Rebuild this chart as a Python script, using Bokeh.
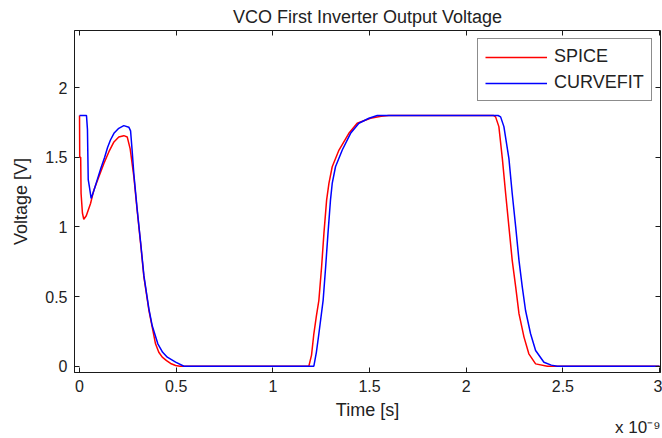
from bokeh.plotting import figure
from bokeh.models import (Range1d, LinearAxis, FixedTicker, Legend, LegendItem, Title)
from bokeh.embed import file_html
from bokeh.resources import INLINE

# ---------------- data (time in units of 1e-9 s, voltage in V) ----------------
t_spice = [0.0, 0.001, 0.006, 0.008, 0.015, 0.022, 0.035, 0.057, 0.074, 0.100,
           0.126, 0.152, 0.178, 0.203, 0.229, 0.247, 0.262, 0.281, 0.298, 0.316,
           0.333, 0.359, 0.376, 0.393, 0.410, 0.428, 0.450, 0.471, 0.497, 0.520,
           0.800, 1.186, 1.200, 1.212, 1.225, 1.238, 1.252, 1.264, 1.278, 1.290,
           1.307, 1.342, 1.393, 1.436, 1.505, 1.560, 1.600, 2.140, 2.152, 2.169,
           2.187, 2.204, 2.221, 2.238, 2.256, 2.273, 2.299, 2.324, 2.359, 2.420,
           2.700, 3.000]
v_spice = [1.800, 1.500, 1.500, 1.240, 1.100, 1.055, 1.080, 1.168, 1.264, 1.360,
           1.456, 1.540, 1.610, 1.645, 1.655, 1.645, 1.560, 1.360, 1.120, 0.880,
           0.640, 0.400, 0.280, 0.161, 0.100, 0.065, 0.040, 0.020, 0.005, 0.000,
           0.000, 0.000, 0.080, 0.233, 0.360, 0.473, 0.712, 0.952, 1.192, 1.312,
           1.432, 1.552, 1.672, 1.744, 1.780, 1.795, 1.800, 1.800, 1.790, 1.720,
           1.490, 1.240, 1.000, 0.760, 0.570, 0.377, 0.209, 0.089, 0.017, 0.000,
           0.000, 0.000]

t_curvefit = [0.0, 0.036, 0.041, 0.045, 0.052, 0.060, 0.074, 0.091, 0.110, 0.130,
              0.145, 0.160, 0.178, 0.203, 0.229, 0.255, 0.264, 0.272, 0.281, 0.298,
              0.316, 0.333, 0.359, 0.376, 0.405, 0.430, 0.454, 0.497, 0.540, 0.800,
              1.212, 1.225, 1.238, 1.260, 1.273, 1.285, 1.298, 1.307, 1.324, 1.359,
              1.402, 1.445, 1.497, 1.540, 2.165, 2.178, 2.195, 2.221, 2.238, 2.256,
              2.273, 2.290, 2.307, 2.333, 2.359, 2.402, 2.440, 2.471, 2.700, 3.000]
v_curvefit = [1.800, 1.800, 1.700, 1.340, 1.280, 1.204, 1.260, 1.336, 1.420, 1.500,
              1.570, 1.624, 1.672, 1.708, 1.727, 1.716, 1.690, 1.550, 1.380, 1.130,
              0.890, 0.650, 0.410, 0.290, 0.161, 0.100, 0.065, 0.029, 0.000, 0.000,
              0.000, 0.100, 0.233, 0.473, 0.712, 0.952, 1.192, 1.312, 1.432, 1.552,
              1.672, 1.744, 1.780, 1.800, 1.800, 1.790, 1.720, 1.490, 1.240, 1.000,
              0.760, 0.570, 0.400, 0.233, 0.113, 0.029, 0.008, 0.000, 0.000, 0.000]

x_ticks = [0, 0.5, 1, 1.5, 2, 2.5, 3]
x_tick_labels = ["0", "0.5", "1", "1.5", "2", "2.5", "3"]
y_ticks = [0, 0.5, 1, 1.5, 2]
y_tick_labels = ["0", "0.5", "1", "1.5", "2"]

title_text = "VCO First Inverter Output Voltage"
x_label_text = "Time [s]"
y_label_text = "Voltage [V]"
x_scale_text = "x 10\u207b\u2079"
series_names = ["SPICE", "CURVEFIT"]

# ---------------- figure ----------------
FONT = "Liberation Sans"
TXT = "#222222"
LINE = "#1a1a1a"

p = figure(width=662, height=438, output_backend="svg", toolbar_location=None,
           x_range=Range1d(-0.026, 3.005), y_range=Range1d(-0.045, 2.41),
           min_border_left=74, min_border_right=2, min_border_top=30,
           min_border_bottom=66, x_axis_location=None, y_axis_location=None)
p.outline_line_color = LINE
p.outline_line_width = 1
p.xgrid.visible = False
p.ygrid.visible = False
p.background_fill_color = "white"
p.border_fill_color = "white"

p.title.text = title_text
p.title.align = "center"
p.title.text_font = FONT
p.title.text_font_size = "18px"
p.title.text_font_style = "normal"
p.title.text_color = TXT
p.title.standoff = 8


def make_axis(ticks, labels, show_labels, axis_label=None, label_standoff=0):
    ax = LinearAxis(ticker=FixedTicker(ticks=ticks),
                    major_label_overrides={t: l for t, l in zip(ticks, labels)})
    ax.major_tick_in = 5
    ax.major_tick_out = 0
    ax.minor_tick_line_color = None
    ax.axis_line_color = LINE
    ax.major_tick_line_color = LINE
    ax.major_label_text_font = FONT
    if show_labels:
        ax.major_label_text_color = TXT
        ax.major_label_text_font_size = "16px"
        ax.major_label_standoff = 7
    else:
        ax.major_label_text_color = None
        ax.major_label_text_font_size = "1px"
        ax.major_label_standoff = 0
        ax.axis_line_color = None
    if axis_label is not None:
        ax.axis_label = axis_label
        ax.axis_label_text_font = FONT
        ax.axis_label_text_font_size = "18px"
        ax.axis_label_text_font_style = "normal"
        ax.axis_label_text_color = TXT
        ax.axis_label_standoff = label_standoff
    return ax


p.add_layout(make_axis(x_ticks, x_tick_labels, True, x_label_text, 5), "below")
p.add_layout(make_axis(y_ticks, y_tick_labels, True, y_label_text, 11), "left")
p.add_layout(make_axis(x_ticks, x_tick_labels, False), "above")
p.add_layout(make_axis(y_ticks, y_tick_labels, False), "right")

p.add_layout(Title(text=x_scale_text, align="right", text_font=FONT,
                   text_font_size="17px", text_font_style="normal",
                   text_color=TXT, standoff=-14, offset=0), "below")

r_spice = p.line(t_spice, v_spice, line_color="#ff0000", line_width=1.5)
r_fit = p.line(t_curvefit, v_curvefit, line_color="#0000ff", line_width=1.5)

legend = Legend(items=[LegendItem(label=series_names[0], renderers=[r_spice]),
                       LegendItem(label=series_names[1], renderers=[r_fit])],
                location=(403, 271), margin=0, padding=7, spacing=5,
                glyph_width=62, glyph_height=20, label_height=20,
                label_standoff=7, label_text_font=FONT,
                label_text_font_size="18px", label_text_color=TXT,
                border_line_color=LINE, border_line_width=1,
                background_fill_color="white", background_fill_alpha=1.0)
p.add_layout(legend)

open("out.html", "w").write(file_html(p, INLINE))
